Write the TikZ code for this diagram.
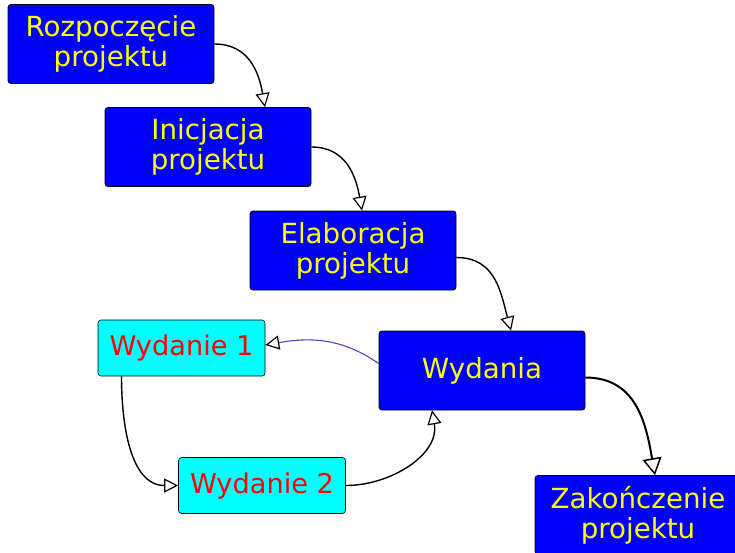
\documentclass[tikz,border=0pt]{standalone}
\usepackage{fontspec}
\setmainfont{DejaVu Sans}
\usetikzlibrary{arrows.meta}
\definecolor{phase}{RGB}{0,0,255}
\definecolor{phasetext}{RGB}{255,255,0}
\definecolor{rel}{RGB}{0,255,255}
\definecolor{reltext}{RGB}{255,0,0}
\definecolor{purpleline}{RGB}{100,60,190}
\tikzset{
  phasebox/.style={draw=black, line width=0.8pt, fill=phase, text=phasetext, rounded corners=3pt,
    minimum width=206pt, minimum height=79pt, inner sep=0pt, align=center,
    font=\fontsize{27.7}{30}\selectfont},
  relbox/.style={draw=black, line width=0.6pt, fill=rel, text=reltext, rounded corners=3pt,
    minimum width=167pt, minimum height=56pt, inner sep=0pt, align=center,
    font=\fontsize{27.2}{30}\selectfont},
  conn/.style={line width=1.4pt, -{Triangle[open, length=14pt, width=14pt, line width=1.2pt]}},
  bigconn/.style={line width=2pt, -{Triangle[open, length=17pt, width=19pt, line width=1.5pt]}},
  softconn/.style={draw=purpleline, line width=1.1pt, -{Triangle[open, length=14pt, width=14pt, line width=1.2pt, color=black]}}
}
\begin{document}
\begin{tikzpicture}[x=1pt,y=1pt]
\clip (0,0) rectangle (735,-552);
\fill[white] (0,0) rectangle (735,-552);
\node[phasebox] (r) at (111,-44) {Rozpoczęcie\\projektu};
\node[phasebox] (i) at (208,-147) {Inicjacja\\projektu};
\node[phasebox] (e) at (353,-250.5) {Elaboracja\\projektu};
\node[phasebox] (w) at (482,-370.5) {Wydania};
\node[phasebox] (z) at (638,-515) {Zakończenie\\projektu};
\node[relbox] (w1) at (181.5,-348) {Wydanie 1};
\node[relbox] (w2) at (262,-485.5) {Wydanie 2};

\draw[conn] (r.east) to[out=0, in=100, looseness=1.1] ([xshift=57pt]i.north);
\draw[conn] (i.east) to[out=0, in=100, looseness=1.1] ([xshift=9pt]e.north);
\draw[conn] ([yshift=-7pt]e.east) to[out=0, in=105, looseness=1.1] ([xshift=29pt]w.north);
\draw[bigconn] ([yshift=-7pt]w.east) to[out=0, in=100, looseness=1.1] ([xshift=17pt]z.north);
\draw[softconn] ([yshift=7pt]w.west) to[out=145, in=10] ([yshift=3pt]w1.east);
\draw[conn] ([xshift=-60pt]w1.south) to[out=-90, in=180] (w2.west);
\draw[conn] (w2.east) to[out=0, in=-80] ([xshift=-50pt]w.south);
\end{tikzpicture}
\end{document}
